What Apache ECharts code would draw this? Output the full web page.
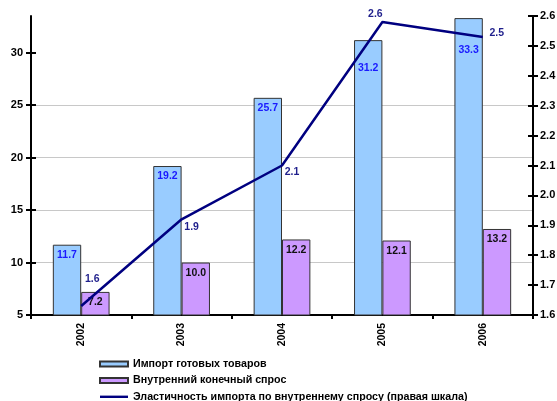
<!DOCTYPE html>
<html>
<head>
<meta charset="utf-8">
<script src="https://cdn.jsdelivr.net/npm/echarts@6/dist/echarts.min.js"></script>
<style>
  html, body { margin: 0; padding: 0; background: #fff; }
  #chart { width: 557px; height: 401px; }
</style>
</head>
<body>
<div id="chart"></div>
<script>
// Years on the category axis
const years = ['2002', '2003', '2004', '2005', '2006'];
// Import of finished goods (left scale)
const importGoods = [11.7, 19.2, 25.7, 31.2, 33.3];
// Domestic final demand (left scale)
const domesticDemand = [7.2, 10.0, 12.2, 12.1, 13.2];
// Import elasticity with respect to domestic demand (right scale)
const elasticity = [1.63, 1.92, 2.10, 2.58, 2.53];
// Tick values shown on the left scale
const leftTicks = [5, 10, 15, 20, 25, 30];

const seriesNames = [
  'Импорт готовых товаров',
  'Внутренний конечный спрос',
  'Эластичность импорта по внутреннему спросу (правая шкала)'
];

const FONT = '"Liberation Sans", Arial, sans-serif';

// Label placement tweaks for individual points
const importLabelOffsets = [[0, 0], [0, 0], [0, 0], [0, 17], [0, 22]];
const elasticityLabelOffsets = [[11, -27], [10, 8], [10, 7], [-7, -8], [14, -4]];

const LEFT_SCALE = { min: 5, max: 33.5, interval: 5 };
const RIGHT_SCALE = { min: 1.6, max: 2.6, interval: 0.1 };

const tickStyle = { color: '#000', width: 2 };

// Extra axes that only draw the inner half of the crossing tick marks
function innerTickAxis(scale, position, customValues) {
  return Object.assign({
    type: 'value',
    position: position,
    axisLine: { show: false },
    axisTick: Object.assign({ show: true, inside: true, length: 5, lineStyle: tickStyle },
      customValues ? { customValues: customValues } : {}),
    axisLabel: { show: false },
    splitLine: { show: false }
  }, scale);
}

const chart = echarts.init(document.getElementById('chart'), null, { renderer: 'canvas' });

chart.setOption({
  animation: false,
  backgroundColor: '#ffffff',
  textStyle: { fontFamily: FONT },
  grid: {
    left: 31, right: 24, top: 16, bottom: 86,
    outerBoundsMode: 'none'
  },
  legend: {
    orient: 'vertical',
    left: 99,
    top: 358,
    width: 450,
    height: 80,
    padding: 0,
    itemWidth: 28,
    itemHeight: 5,
    itemGap: 4.4,
    symbolKeepAspect: true,
    textStyle: { fontFamily: FONT, fontSize: 10.7, fontWeight: 'bold', color: '#000', lineHeight: 12 },
    data: [
      { name: seriesNames[0], icon: 'rect' },
      { name: seriesNames[1], icon: 'rect' },
      // plain stroke for the line series entry
      { name: seriesNames[2], icon: 'path://M0,0 H28 V2.4 H0 Z', itemStyle: { color: '#000080', borderWidth: 0 } }
    ]
  },
  xAxis: {
    type: 'category',
    data: years,
    boundaryGap: true,
    axisLine: { lineStyle: { color: '#000', width: 2 } },
    axisTick: { show: true, length: 4, lineStyle: tickStyle },
    axisLabel: {
      rotate: 90,
      margin: 8,
      fontFamily: FONT,
      fontSize: 10.5,
      fontWeight: 'bold',
      color: '#000'
    },
    splitLine: { show: false }
  },
  yAxis: [
    Object.assign({
      type: 'value',
      axisLine: { show: true, lineStyle: { color: '#000', width: 2 } },
      axisTick: { show: true, length: 5, customValues: leftTicks, lineStyle: tickStyle },
      axisLabel: {
        customValues: leftTicks,
        margin: 8,
        fontFamily: FONT,
        fontSize: 11,
        fontWeight: 'bold',
        color: '#000'
      },
      splitLine: {
        show: true,
        showMinLine: false,
        showMaxLine: false,
        lineStyle: { color: '#c8c8c8', width: 1 }
      }
    }, LEFT_SCALE),
    Object.assign({
      type: 'value',
      position: 'right',
      axisLine: { show: true, lineStyle: { color: '#000', width: 2 } },
      axisTick: { show: true, length: 5, lineStyle: tickStyle },
      axisLabel: {
        margin: 7,
        fontFamily: FONT,
        fontSize: 11,
        fontWeight: 'bold',
        color: '#000',
        formatter: v => v.toFixed(1)
      },
      splitLine: { show: false }
    }, RIGHT_SCALE),
    innerTickAxis(LEFT_SCALE, 'left', leftTicks),
    innerTickAxis(RIGHT_SCALE, 'right', null)
  ],
  series: [
    {
      name: seriesNames[0],
      type: 'bar',
      yAxisIndex: 0,
      barGap: '0%',
      barCategoryGap: '43.5%',
      itemStyle: { color: '#99ccff', borderColor: '#333333', borderWidth: 1 },
      label: {
        show: true,
        position: 'insideTop',
        fontFamily: FONT,
        fontSize: 10.5,
        fontWeight: 'bold',
        color: '#1a1aff',
        formatter: p => p.value.toFixed(1)
      },
      data: importGoods.map((v, i) => ({ value: v, label: { offset: importLabelOffsets[i] } })),
      z: 2
    },
    {
      name: seriesNames[1],
      type: 'bar',
      yAxisIndex: 0,
      itemStyle: { color: '#cc99ff', borderColor: '#333333', borderWidth: 1 },
      label: {
        show: true,
        position: 'insideTop',
        fontFamily: FONT,
        fontSize: 10.5,
        fontWeight: 'bold',
        color: '#111',
        formatter: p => p.value.toFixed(1)
      },
      data: domesticDemand,
      z: 2
    },
    {
      name: seriesNames[2],
      type: 'line',
      yAxisIndex: 1,
      symbol: 'circle',
      symbolSize: 0.1,
      showSymbol: true,
      lineStyle: { color: '#000080', width: 2.5 },
      itemStyle: { color: '#000080' },
      label: {
        show: true,
        position: 'inside',
        fontFamily: FONT,
        fontSize: 10.5,
        fontWeight: 'bold',
        color: '#1f1f8c',
        formatter: p => p.value.toFixed(1)
      },
      data: elasticity.map((v, i) => ({ value: v, label: { offset: elasticityLabelOffsets[i] } })),
      z: 5
    }
  ]
});
</script>
</body>
</html>
